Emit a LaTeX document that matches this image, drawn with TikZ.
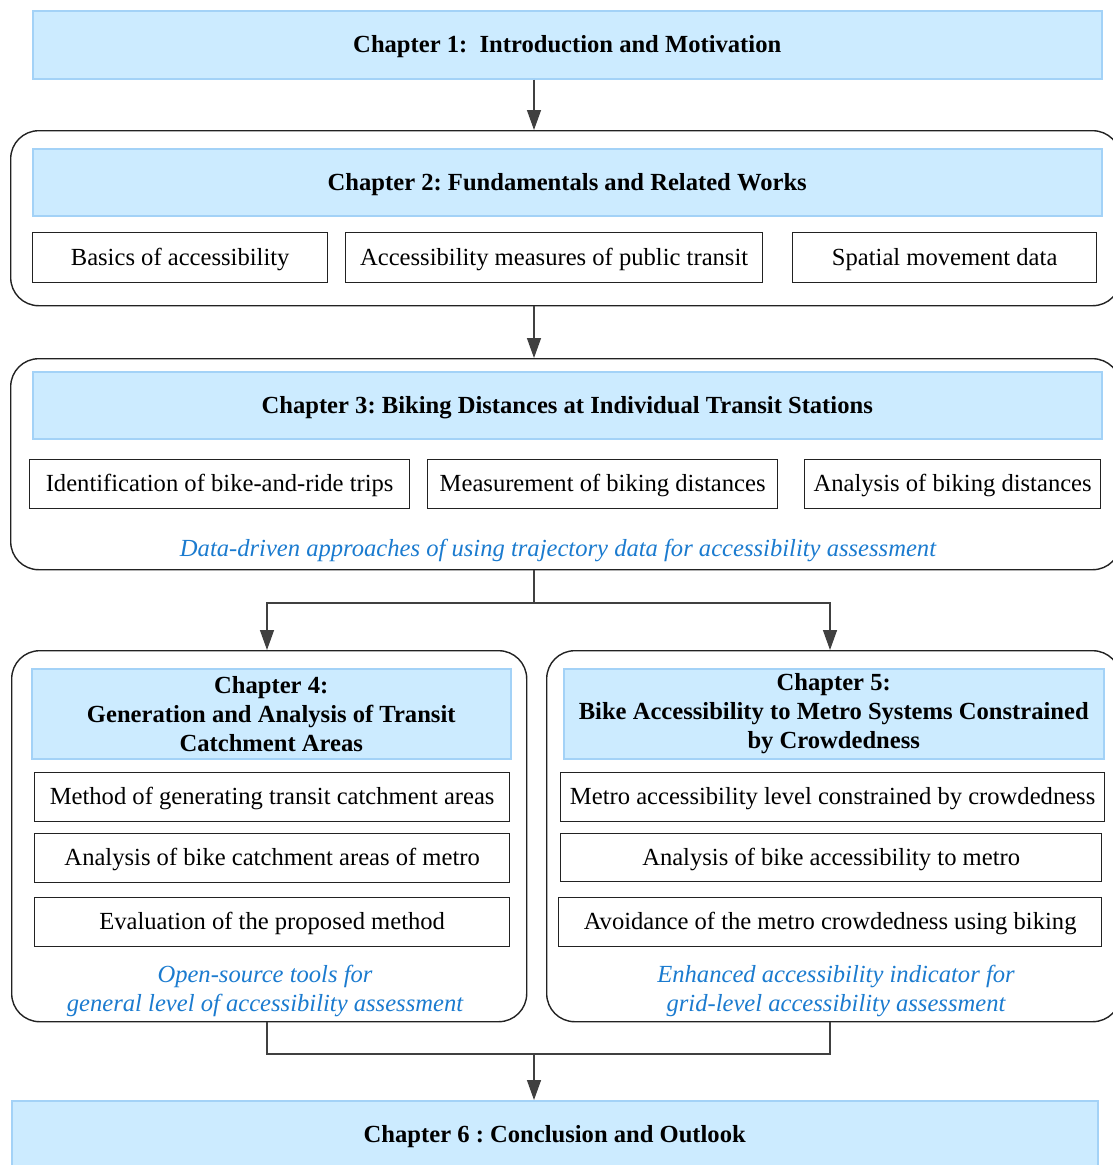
\documentclass[tikz,border=0pt]{standalone}
\usepackage{fontspec}
\setmainfont{Liberation Serif}
\usetikzlibrary{arrows.meta}
\definecolor{hdrfill}{HTML}{CCEBFF}
\definecolor{hdrline}{HTML}{A3D2F7}
\definecolor{notecol}{HTML}{1B7BCF}
\definecolor{linecol}{HTML}{404040}
\definecolor{boxline}{HTML}{222222}
\frenchspacing

\begin{document}
\begin{tikzpicture}[x=1pt,y=-1pt,
  oneline/.style={text height=21pt, text depth=5.5pt},
  hdr/.style={draw=hdrline, fill=hdrfill, line width=1.5pt, anchor=north west,
    inner sep=0pt, font=\fontsize{24.6}{29}\selectfont\bfseries, align=center},
  item/.style={draw=boxline, line width=1.3pt, anchor=north west, inner sep=0pt,
    oneline, font=\fontsize{24.6}{29}\selectfont},
  group/.style={draw=boxline, line width=1.4pt, rounded corners=28pt,
    anchor=north west, inner sep=0pt},
  note/.style={text=notecol, font=\fontsize{24.6}{29}\selectfont\itshape, align=center},
  arr/.style={draw=linecol, line width=1.4pt, -{Triangle[length=20pt,width=14pt]}},
  link/.style={draw=linecol, line width=1.4pt}]
\useasboundingbox (0,0) rectangle (1112,1165);

% reference columns for the connectors
\coordinate (spine) at (534,0);
\coordinate (left) at (267,0);
\coordinate (right) at (830,0);

% Chapter 1
\node[hdr, oneline, minimum width=1069pt, minimum height=68pt] (ch1) at (32,10)
  {Chapter 1:\ \ Introduction and Motivation};

% Chapter 2
\node[group, minimum width=1110pt, minimum height=175pt] (ch2o) at (10,130) {};
\node[hdr, oneline, minimum width=1069pt, minimum height=67pt] (ch2) at (32,148)
  {Chapter 2: Fundamentals and Related Works};
\node[item, minimum width=295pt, minimum height=50pt] (b21) at (32,232) {Basics of accessibility};
\node[item, minimum width=417pt, minimum height=50pt] (b22) at (345,232) {Accessibility measures of public transit};
\node[item, minimum width=304pt, minimum height=50pt] (b23) at (792,232) {Spatial movement data};

% Chapter 3
\node[group, minimum width=1110pt, minimum height=211pt] (ch3o) at (10,358) {};
\node[hdr, oneline, minimum width=1069pt, minimum height=67pt] (ch3) at (32,371)
  {Chapter 3: Biking Distances at Individual Transit Stations};
\node[item, minimum width=380pt, minimum height=49pt] (b31) at (29,459) {Identification of bike-and-ride trips};
\node[item, minimum width=350pt, minimum height=49pt] (b32) at (427,459) {Measurement of biking distances};
\node[item, minimum width=296pt, minimum height=49pt] (b33) at (804,459) {Analysis of biking distances};
\node[note] (n3) at (558,550) {Data-driven approaches of using trajectory data for accessibility assessment};

% Chapter 4
\node[group, minimum width=515pt, minimum height=371pt] (ch4o) at (11,650) {};
\node[hdr, minimum width=479pt, minimum height=90pt] (ch4) at (31,668)
  {Chapter 4:\\Generation and Analysis of Transit\\Catchment Areas};
\node[item, minimum width=475pt, minimum height=49pt] (b41) at (34,772) {Method of generating transit catchment areas};
\node[item, minimum width=475pt, minimum height=49pt] (b42) at (34,833) {Analysis of bike catchment areas of metro};
\node[item, minimum width=475pt, minimum height=49pt] (b43) at (34,897) {Evaluation of the proposed method};
\node[note] (n4) at (265,991) {Open-source tools for\\general level of accessibility assessment};

% Chapter 5
\node[group, minimum width=574pt, minimum height=371pt] (ch5o) at (546,650) {};
\node[hdr, minimum width=540pt, minimum height=90pt] (ch5) at (563,668)
  {Chapter 5:\\Bike Accessibility to Metro Systems Constrained\\by Crowdedness};
\node[item, minimum width=544pt, minimum height=49pt] (b51) at (560,772) {Metro accessibility level constrained by crowdedness};
\node[item, minimum width=541pt, minimum height=48pt] (b52) at (560,833) {Analysis of bike accessibility to metro};
\node[item, minimum width=543pt, minimum height=49pt] (b53) at (558,897) {Avoidance of the metro crowdedness using biking};
\node[note] (n5) at (836,991) {Enhanced accessibility indicator for\\grid-level accessibility assessment};

% Chapter 6
\node[hdr, oneline, minimum width=1086pt, minimum height=68pt] (ch6) at (11,1100)
  {Chapter 6 : Conclusion and Outlook};

% connectors
\draw[arr] (ch1.south -| spine) -- (ch2o.north -| spine);
\draw[arr] (ch2o.south -| spine) -- (ch3o.north -| spine);
\coordinate (fork) at (534,603);
\draw[link] (ch3o.south -| spine) -- (fork);
\draw[arr] (fork) -| (ch4o.north -| left);
\draw[arr] (fork) -| (ch5o.north -| right);
\coordinate (join) at (534,1054);
\draw[link] (ch4o.south -| left) |- (join) -| (ch5o.south -| right);
\draw[arr] (join) -- (ch6.north -| spine);
\end{tikzpicture}
\end{document}
